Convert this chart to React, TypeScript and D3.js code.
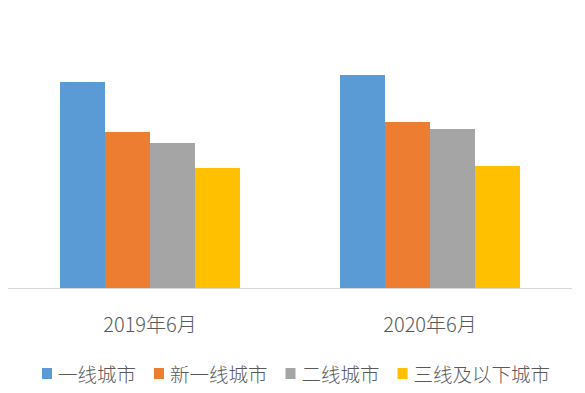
import React from "react";
import * as d3 from "d3";

const categories = ["2019年6月", "2020年6月"];
const seriesNames = ["一线城市", "新一线城市", "二线城市", "三线及以下城市"];
const seriesColors = ["#5B9BD5", "#ED7D31", "#A5A5A5", "#FFC000"];
const values2019 = [206, 156, 145, 120];
const values2020 = [213, 166, 159, 122];
const valuesByCategory = [values2019, values2020];

const W = 585;
const H = 393;
const baseY = 288;
const fontFamily = "'Noto Sans CJK SC', 'Microsoft YaHei', sans-serif";
const textColor = "#595959";

export default function App() {
  const x0 = d3.scaleBand<string>().domain(categories).range([10, 570]).padding(0);
  const x1 = d3
    .scaleBand<string>()
    .domain(seriesNames)
    .range([50, x0.bandwidth() - 50])
    .padding(0);
  const y = d3.scaleLinear().domain([0, 250]).range([baseY, baseY - 250]);

  const legendFont = 19.5;
  const sq = 11;
  const sqGap = 5;
  const itemGap = 18;
  const itemWidths = seriesNames.map((n) => sq + sqGap + n.length * legendFont);
  const totalW = d3.sum(itemWidths) + itemGap * (seriesNames.length - 1);
  let lx = 296 - totalW / 2;
  const legendItems = seriesNames.map((n, i) => {
    const item = { name: n, x: lx, color: seriesColors[i] };
    lx += itemWidths[i] + itemGap;
    return item;
  });

  return (
    <svg width={W} height={H} style={{ position: "absolute", left: 0, top: 0, background: "#fff" }}>
      <rect x={0} y={0} width={W} height={H} fill="#fff" />
      {categories.map((c, ci) => (
        <g key={c} transform={`translate(${x0(c)},0)`}>
          {seriesNames.map((s, si) => (
            <rect
              key={s}
              x={x1(s)}
              y={y(valuesByCategory[ci][si])}
              width={x1.bandwidth()}
              height={baseY - y(valuesByCategory[ci][si])}
              fill={seriesColors[si]}
            />
          ))}
          <text
            x={x0.bandwidth() / 2}
            y={323}
            textAnchor="middle"
            dominantBaseline="central"
            fontSize={20}
            fontFamily={fontFamily}
            fontWeight={300}
            fill={textColor}
          >
            {c}
          </text>
        </g>
      ))}
      <line x1={8} x2={572} y1={baseY + 0.5} y2={baseY + 0.5} stroke="#D9D9D9" strokeWidth={1} />
      {legendItems.map((it) => (
        <g key={it.name}>
          <rect x={it.x} y={368} width={sq - 1} height={sq} fill={it.color} />
          <text
            x={it.x + sq + sqGap}
            y={373}
            dominantBaseline="central"
            fontSize={legendFont}
            fontFamily={fontFamily}
            fontWeight={300}
            fill={textColor}
          >
            {it.name}
          </text>
        </g>
      ))}
    </svg>
  );
}
